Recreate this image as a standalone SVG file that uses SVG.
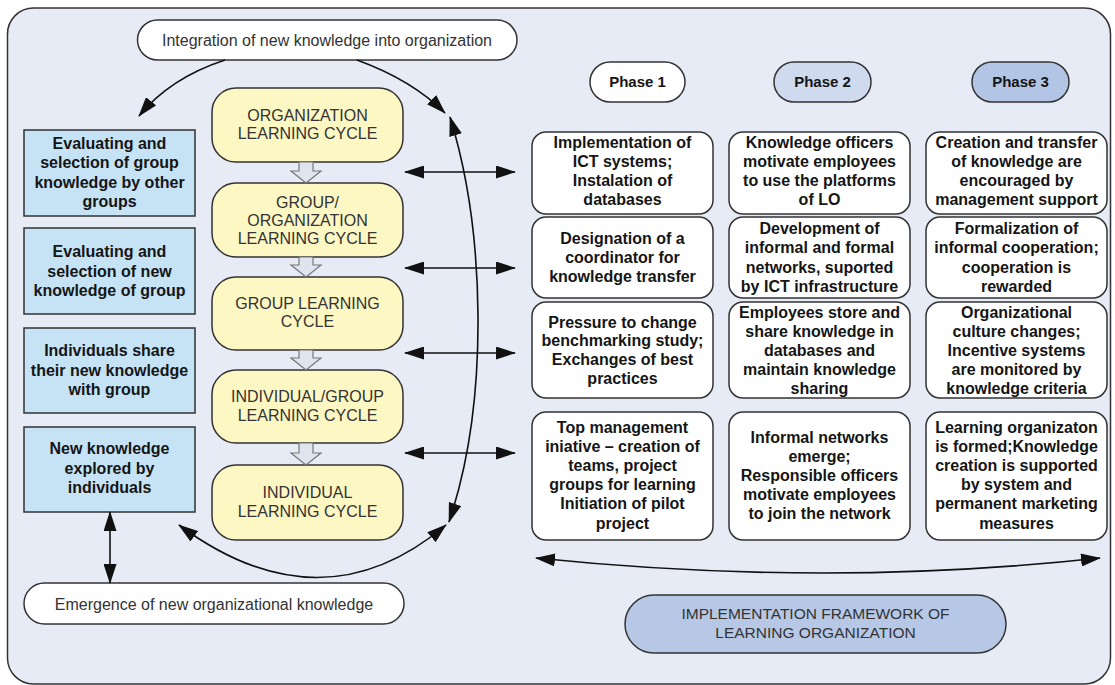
<svg xmlns="http://www.w3.org/2000/svg" width="1115" height="685" viewBox="0 0 1115 685">
<style>
.bg{fill:#e6ebf5;stroke:#333;stroke-width:1.5}
.pill{fill:#fff;stroke:#333;stroke-width:1.5}
.blue{fill:#c6e3f6;stroke:#333;stroke-width:1.5}
.yel{fill:#fdf7c4;stroke:#333;stroke-width:1.5}
.cell{fill:#fff;stroke:#333;stroke-width:1.5}
.hol{fill:#dfe5ef;stroke:#777;stroke-width:1.2}
.t{font-family:"Liberation Sans",Arial,sans-serif;text-anchor:middle}
.b{font-weight:bold;font-size:16px;fill:#151515}
.r{font-size:16px;fill:#333}
.con{fill:none;stroke:#111;stroke-width:1.6}
</style>
<defs>
<marker id="ah" markerUnits="userSpaceOnUse" markerWidth="20" markerHeight="13" refX="19" refY="6.5" orient="auto-start-reverse">
<path d="M0,0 L20,6.5 L0,13 Z" fill="#111"/>
</marker>
</defs>
<rect class="bg" x="7.5" y="8" width="1103" height="676" rx="26"/>

<g id="integration"><rect class="pill" x="137.5" y="20" width="379.5" height="40" rx="20"/><text class="t r" x="327" y="45.5">Integration of new knowledge into organization</text></g>
<g id="emergence"><rect class="pill" x="24" y="583" width="380" height="41" rx="20.5"/><text class="t r" x="214" y="609.5">Emergence of new organizational knowledge</text></g>

<g id="blue1"><rect class="blue" x="24" y="130" width="171" height="86"/><text class="t b"><tspan x="109.5" y="148.5">Evaluating and</tspan><tspan x="109.5" y="168">selection of group</tspan><tspan x="109.5" y="187.5">knowledge by other</tspan><tspan x="109.5" y="207">groups</tspan></text></g>
<g id="blue2"><rect class="blue" x="24" y="228" width="171" height="86"/><text class="t b"><tspan x="109.5" y="257">Evaluating and</tspan><tspan x="109.5" y="276.5">selection of new</tspan><tspan x="109.5" y="296">knowledge of group</tspan></text></g>
<g id="blue3"><rect class="blue" x="24" y="328" width="171" height="85"/><text class="t b"><tspan x="109.5" y="356">Individuals share</tspan><tspan x="109.5" y="375.5">their new knowledge</tspan><tspan x="109.5" y="395">with group</tspan></text></g>
<g id="blue4"><rect class="blue" x="24" y="427" width="171" height="85"/><text class="t b"><tspan x="109.5" y="454">New knowledge</tspan><tspan x="109.5" y="473.5">explored by</tspan><tspan x="109.5" y="493">individuals</tspan></text></g>

<g id="y1"><rect class="yel" x="212" y="88" width="191" height="74" rx="24"/><text class="t r"><tspan x="307.5" y="120.5">ORGANIZATION</tspan><tspan x="307.5" y="139">LEARNING CYCLE</tspan></text></g>
<g id="y2"><rect class="yel" x="212" y="183" width="191" height="74" rx="24"/><text class="t r"><tspan x="307.5" y="207.5">GROUP/</tspan><tspan x="307.5" y="225.5">ORGANIZATION</tspan><tspan x="307.5" y="243.5">LEARNING CYCLE</tspan></text></g>
<g id="y3"><rect class="yel" x="212" y="277" width="191" height="73" rx="24"/><text class="t r"><tspan x="307.5" y="308.5">GROUP LEARNING</tspan><tspan x="307.5" y="327">CYCLE</tspan></text></g>
<g id="y4"><rect class="yel" x="212" y="370" width="191" height="73" rx="24"/><text class="t r"><tspan x="307.5" y="401.5">INDIVIDUAL/GROUP</tspan><tspan x="307.5" y="420.5">LEARNING CYCLE</tspan></text></g>
<g id="y5"><rect class="yel" x="212" y="465" width="191" height="75" rx="24"/><text class="t r"><tspan x="307.5" y="497.5">INDIVIDUAL</tspan><tspan x="307.5" y="517">LEARNING CYCLE</tspan></text></g>

<g id="hollow-arrows">
<path class="hol" d="M299,162 h14 v9 h8 l-15,12 l-15,-12 h8 z"/>
<path class="hol" d="M299,257 h14 v8 h8 l-15,12 l-15,-12 h8 z"/>
<path class="hol" d="M299,350 h14 v8 h8 l-15,12 l-15,-12 h8 z"/>
<path class="hol" d="M299,443 h14 v10 h8 l-15,12 l-15,-12 h8 z"/>
</g>

<g id="phase1"><rect class="pill" x="590" y="62" width="95" height="40" rx="20"/><text class="t b" x="637.5" y="87" style="font-size:15px">Phase 1</text></g>
<g id="phase2"><rect class="pill" x="774" y="62" width="97" height="40" rx="20" style="fill:#cfdaee"/><text class="t b" x="822.5" y="87" style="font-size:15px">Phase 2</text></g>
<g id="phase3"><rect class="pill" x="972" y="62" width="97" height="40" rx="20" style="fill:#b3c5e5"/><text class="t b" x="1020.5" y="87" style="font-size:15px">Phase 3</text></g>

<g id="c11"><rect class="cell" x="532" y="132" width="181" height="82" rx="14"/><text class="t b"><tspan x="622.5" y="147.5">Implementation of</tspan><tspan x="622.5" y="166.8">ICT systems;</tspan><tspan x="622.5" y="186.1">Instalation of</tspan><tspan x="622.5" y="205.4">databases</tspan></text></g>
<g id="c12"><rect class="cell" x="729" y="132" width="181" height="82" rx="14"/><text class="t b"><tspan x="819.5" y="147.5">Knowledge officers</tspan><tspan x="819.5" y="166.8">motivate employees</tspan><tspan x="819.5" y="186.1">to use the platforms</tspan><tspan x="819.5" y="205.4">of LO</tspan></text></g>
<g id="c13"><rect class="cell" x="926" y="132" width="181" height="82" rx="14"/><text class="t b"><tspan x="1016.5" y="147.5">Creation and transfer</tspan><tspan x="1016.5" y="166.8">of knowledge are</tspan><tspan x="1016.5" y="186.1">encouraged by</tspan><tspan x="1016.5" y="205.4">management support</tspan></text></g>

<g id="c21"><rect class="cell" x="532" y="217" width="181" height="81" rx="14"/><text class="t b"><tspan x="622.5" y="243.5">Designation of a</tspan><tspan x="622.5" y="262.5">coordinator for</tspan><tspan x="622.5" y="281.5">knowledge transfer</tspan></text></g>
<g id="c22"><rect class="cell" x="729" y="217" width="181" height="81" rx="14"/><text class="t b"><tspan x="819.5" y="233.5">Development of</tspan><tspan x="819.5" y="253">informal and formal</tspan><tspan x="819.5" y="272.5">networks, suported</tspan><tspan x="819.5" y="292">by ICT infrastructure</tspan></text></g>
<g id="c23"><rect class="cell" x="926" y="217" width="181" height="81" rx="14"/><text class="t b"><tspan x="1016.5" y="233.5">Formalization of</tspan><tspan x="1016.5" y="253">informal cooperation;</tspan><tspan x="1016.5" y="272.5">cooperation is</tspan><tspan x="1016.5" y="292">rewarded</tspan></text></g>

<g id="c31"><rect class="cell" x="532" y="302" width="181" height="96" rx="14"/><text class="t b"><tspan x="622.5" y="327.5">Pressure to change</tspan><tspan x="622.5" y="346.2">benchmarking study;</tspan><tspan x="622.5" y="364.9">Exchanges of best</tspan><tspan x="622.5" y="383.5">practices</tspan></text></g>
<g id="c32"><rect class="cell" x="729" y="302" width="181" height="96" rx="14"/><text class="t b"><tspan x="819.5" y="317.5">Employees store and</tspan><tspan x="819.5" y="336.5">share knowledge in</tspan><tspan x="819.5" y="355.5">databases and</tspan><tspan x="819.5" y="374.5">maintain knowledge</tspan><tspan x="819.5" y="393.5">sharing</tspan></text></g>
<g id="c33"><rect class="cell" x="926" y="302" width="181" height="96" rx="14"/><text class="t b"><tspan x="1016.5" y="317.5">Organizational</tspan><tspan x="1016.5" y="336.5">culture changes;</tspan><tspan x="1016.5" y="355.5">Incentive systems</tspan><tspan x="1016.5" y="374.5">are monitored by</tspan><tspan x="1016.5" y="393.5">knowledge criteria</tspan></text></g>

<g id="c41"><rect class="cell" x="532" y="412" width="181" height="128" rx="14"/><text class="t b"><tspan x="622.5" y="432.5">Top management</tspan><tspan x="622.5" y="451.7">iniative – creation of</tspan><tspan x="622.5" y="470.9">teams, project</tspan><tspan x="622.5" y="490.1">groups for learning</tspan><tspan x="622.5" y="509.3">Initiation of pilot</tspan><tspan x="622.5" y="528.5">project</tspan></text></g>
<g id="c42"><rect class="cell" x="729" y="412" width="181" height="128" rx="14"/><text class="t b"><tspan x="819.5" y="442.5">Informal networks</tspan><tspan x="819.5" y="461.5">emerge;</tspan><tspan x="819.5" y="480.5">Responsible officers</tspan><tspan x="819.5" y="499.5">motivate employees</tspan><tspan x="819.5" y="518.5">to join the network</tspan></text></g>
<g id="c43"><rect class="cell" x="926" y="412" width="181" height="128" rx="14"/><text class="t b"><tspan x="1016.5" y="432.5">Learning organizaton</tspan><tspan x="1016.5" y="451.7">is formed;Knowledge</tspan><tspan x="1016.5" y="470.9">creation is supported</tspan><tspan x="1016.5" y="490.1">by system and</tspan><tspan x="1016.5" y="509.3">permanent marketing</tspan><tspan x="1016.5" y="528.5">measures</tspan></text></g>

<g id="framework"><rect class="pill" x="625" y="595" width="381" height="58" rx="29" style="fill:#b6c8e6"/><text class="t r" style="font-size:15.5px"><tspan x="815.5" y="619">IMPLEMENTATION FRAMEWORK OF</tspan><tspan x="815.5" y="638">LEARNING ORGANIZATION</tspan></text></g>

<g id="connectors">
<path class="con" d="M225,60 Q170,78 139,116" marker-end="url(#ah)"/>
<path class="con" d="M357,60 Q412,80 445,113" marker-end="url(#ah)"/>
<path class="con" d="M450,117 C485,230 490,400 449,522" marker-start="url(#ah)" marker-end="url(#ah)"/>
<path class="con" d="M179,525 Q321,630 446,525" marker-start="url(#ah)" marker-end="url(#ah)"/>
<path class="con" d="M110,512 V583" marker-start="url(#ah)" marker-end="url(#ah)"/>
<path class="con" d="M405,172 H515" marker-start="url(#ah)" marker-end="url(#ah)"/>
<path class="con" d="M405,268 H515" marker-start="url(#ah)" marker-end="url(#ah)"/>
<path class="con" d="M405,353 H515" marker-start="url(#ah)" marker-end="url(#ah)"/>
<path class="con" d="M405,453 H515" marker-start="url(#ah)" marker-end="url(#ah)"/>
<path class="con" d="M536,558 Q828,588 1100,558" marker-start="url(#ah)" marker-end="url(#ah)"/>
</g>
</svg>
